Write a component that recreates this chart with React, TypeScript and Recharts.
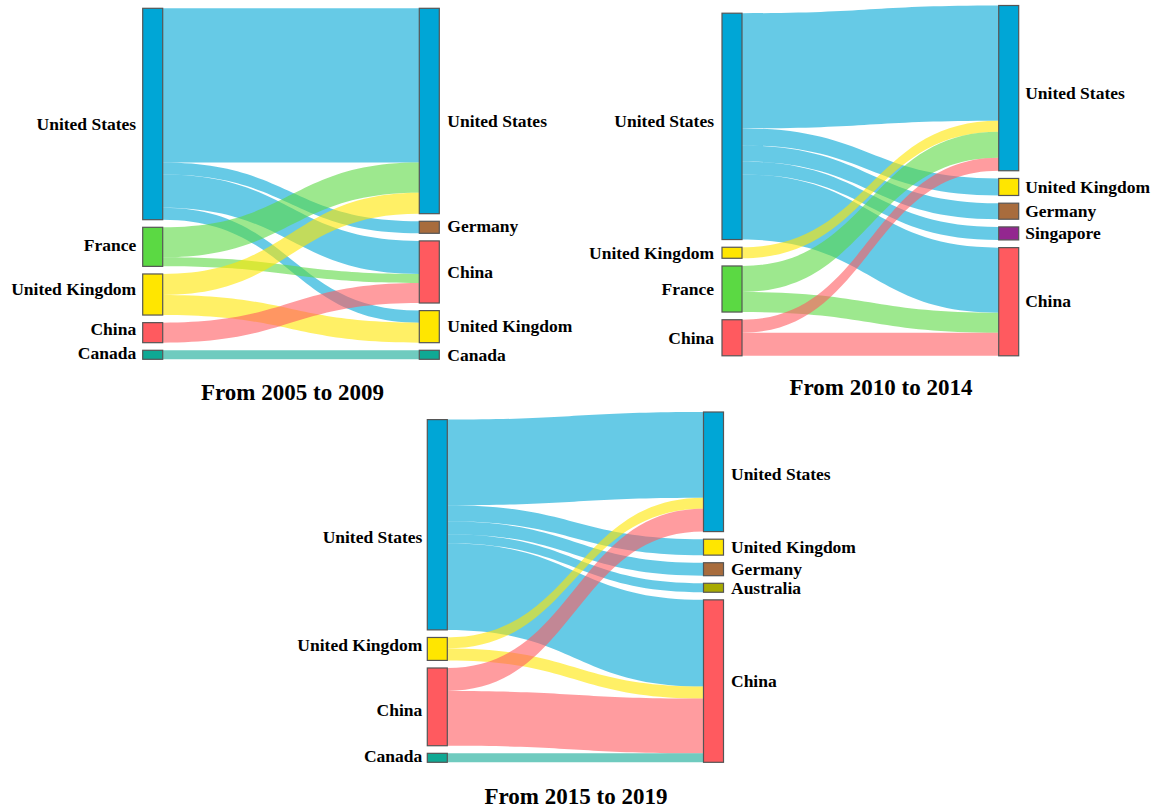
import { Sankey } from "recharts";

type Flow = { from: string; to: string; value: number };

// 2005 - 2009
const left0509 = ["United States", "France", "United Kingdom", "China", "Canada"];
const right0509 = ["United States", "Germany", "China", "United Kingdom", "Canada"];
const flows0509: Flow[] = [
  { from: "United States", to: "United States", value: 154 },
  { from: "United States", to: "Germany", value: 12 },
  { from: "United States", to: "China", value: 33 },
  { from: "United States", to: "United Kingdom", value: 12 },
  { from: "France", to: "United States", value: 30 },
  { from: "France", to: "China", value: 9 },
  { from: "United Kingdom", to: "United States", value: 21 },
  { from: "United Kingdom", to: "United Kingdom", value: 20 },
  { from: "China", to: "China", value: 20 },
  { from: "Canada", to: "Canada", value: 9 },
];

// 2010 - 2014
const left1014 = ["United States", "United Kingdom", "France", "China"];
const right1014 = ["United States", "United Kingdom", "Germany", "Singapore", "China"];
const flows1014: Flow[] = [
  { from: "United States", to: "United States", value: 115 },
  { from: "United States", to: "United Kingdom", value: 17 },
  { from: "United States", to: "Germany", value: 16 },
  { from: "United States", to: "Singapore", value: 13 },
  { from: "United States", to: "China", value: 65 },
  { from: "United Kingdom", to: "United States", value: 11 },
  { from: "France", to: "United States", value: 26 },
  { from: "France", to: "China", value: 20 },
  { from: "China", to: "United States", value: 13 },
  { from: "China", to: "China", value: 23 },
];

// 2015 - 2019
const left1519 = ["United States", "United Kingdom", "China", "Canada"];
const right1519 = ["United States", "United Kingdom", "Germany", "Australia", "China"];
const flows1519: Flow[] = [
  { from: "United States", to: "United States", value: 86 },
  { from: "United States", to: "United Kingdom", value: 16 },
  { from: "United States", to: "Germany", value: 13 },
  { from: "United States", to: "Australia", value: 9 },
  { from: "United States", to: "China", value: 87 },
  { from: "United Kingdom", to: "United States", value: 11 },
  { from: "United Kingdom", to: "China", value: 12 },
  { from: "China", to: "United States", value: 23 },
  { from: "China", to: "China", value: 55 },
  { from: "Canada", to: "China", value: 9 },
];

const COLORS: Record<string, string> = {
  "United States": "#00a6d6",
  France: "#5bd943",
  "United Kingdom": "#ffe600",
  China: "#ff5a5f",
  Canada: "#0fa994",
  Germany: "#a86c3d",
  Singapore: "#93278f",
  Australia: "#a8aa00",
};

const FONT = "'Liberation Serif', 'Times New Roman', serif";

// padTop: left column has one node less, so an empty spacer keeps it bottom aligned
function buildData(left: string[], right: string[], flows: Flow[], padTop: boolean) {
  const nodes: { name: string; side: string }[] = [];
  if (padTop) nodes.push({ name: "", side: "pad" });
  const leftOff = nodes.length;
  left.forEach((n) => nodes.push({ name: n, side: "left" }));
  const rightOff = nodes.length;
  right.forEach((n) => nodes.push({ name: n, side: "right" }));
  const links = flows.map((f) => ({
    source: leftOff + left.indexOf(f.from),
    target: rightOff + right.indexOf(f.to),
    value: f.value,
  }));
  if (padTop) links.unshift({ source: 0, target: rightOff, value: 0 });
  return { nodes, links };
}

function makeNode(nudge: Record<string, number>, gapL: number, gapR: number) {
  return (props: any) => {
    const { x, y, width, height, payload } = props;
    if (!payload || payload.side === "pad") return <g />;
    const isLeft = payload.side === "left";
    const shift = nudge[(isLeft ? "L:" : "R:") + payload.name] ?? 0;
    return (
      <g>
        <rect x={x} y={y} width={width} height={height} fill={COLORS[payload.name]} stroke="#555" strokeWidth={1.2} />
        <text
          x={isLeft ? x - gapL : x + width + gapR}
          y={y + height / 2 + shift}
          dy="0.33em"
          textAnchor={isLeft ? "end" : "start"}
          fontFamily={FONT}
          fontWeight="bold"
          fontSize={17.5}
          fill="#000"
        >
          {payload.name}
        </text>
      </g>
    );
  };
}

function BandLink(props: any) {
  const { sourceX, targetX, sourceY, targetY, sourceControlX, targetControlX, linkWidth, payload } = props;
  if (!payload || !payload.value) return <g />;
  const h = linkWidth / 2;
  const d =
    `M${sourceX},${sourceY - h}` +
    `C${sourceControlX},${sourceY - h} ${targetControlX},${targetY - h} ${targetX},${targetY - h}` +
    `L${targetX},${targetY + h}` +
    `C${targetControlX},${targetY + h} ${sourceControlX},${sourceY + h} ${sourceX},${sourceY + h}Z`;
  return <path d={d} fill={COLORS[payload.source.name]} fillOpacity={0.6} stroke="none" />;
}

const W = 1153;
const H = 808;

const charts = [
  {
    data: buildData(left0509, right0509, flows0509, false),
    box: { l: 142.7, r: 439.3, t: 8.3, b: 359.3 },
    pad: 7.6,
    gapL: 6.5,
    gapR: 8,
    nudge: { "L:United States": 10, "R:United States": 10, "L:United Kingdom": -5, "L:France": -2, "L:China": -3, "L:Canada": -2, "R:Germany": -1 },
    title: { text: "From 2005 to 2009", x: 292.5, y: 400 },
  },
  {
    data: buildData(left1014, right1014, flows1014, true),
    box: { l: 722, r: 1018.7, t: 5.5, b: 355.8 },
    pad: 7.7,
    gapL: 8,
    gapR: 6.5,
    nudge: { "L:United States": -5, "R:United States": 5 },
    title: { text: "From 2010 to 2014", x: 881, y: 395 },
  },
  {
    data: buildData(left1519, right1519, flows1519, true),
    box: { l: 427.3, r: 723.5, t: 412, b: 762.3 },
    pad: 7.6,
    gapL: 5,
    gapR: 7.5,
    nudge: { "L:United States": 12, "R:United States": 2, "L:United Kingdom": -4, "L:China": 3, "L:Canada": -2 },
    title: { text: "From 2015 to 2019", x: 576, y: 804 },
  },
];

export default function App() {
  return (
    <div style={{ position: "absolute", left: 0, top: 0, width: W, height: H, background: "#fff" }}>
      {charts.map((c, i) => (
        <div key={i} style={{ position: "absolute", left: 0, top: 0 }}>
          <Sankey
            width={W}
            height={H}
            data={c.data}
            nodeWidth={20}
            nodePadding={c.pad}
            iterations={0}
            margin={{ left: c.box.l, right: W - c.box.r, top: c.box.t, bottom: H - c.box.b }}
            node={makeNode(c.nudge, c.gapL, c.gapR)}
            link={BandLink}
          />
        </div>
      ))}
      <svg width={W} height={H} style={{ position: "absolute", left: 0, top: 0, pointerEvents: "none" }}>
        {charts.map((c, i) => (
          <text
            key={i}
            x={c.title.x}
            y={c.title.y}
            textAnchor="middle"
            fontFamily={FONT}
            fontWeight="bold"
            fontSize={23}
            fill="#000"
          >
            {c.title.text}
          </text>
        ))}
      </svg>
    </div>
  );
}
